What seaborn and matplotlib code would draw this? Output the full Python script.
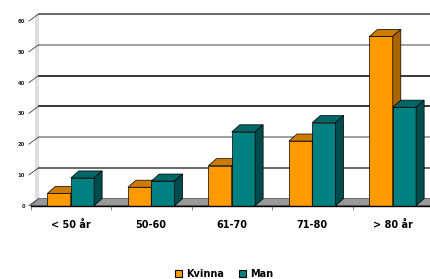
import pandas as pd
import seaborn as sns
from matplotlib import pyplot as plt
from matplotlib.patches import Polygon, Patch

# data
age_groups = ["< 50 år", "50-60", "61-70", "71-80", "> 80 år"]
kvinna = [4, 6, 13, 21, 55]
man = [9, 8, 24, 27, 32]
series = ["Kvinna", "Man"]
y_ticks = [0, 10, 20, 30, 40, 50, 60]

front = {"Kvinna": "#FF9900", "Man": "#008080"}
top = {"Kvinna": "#CC7A00", "Man": "#006666"}
side = {"Kvinna": "#A86400", "Man": "#004C4C"}

df = pd.DataFrame({
    "Ålder": age_groups * 2,
    "Kön": ["Kvinna"] * len(age_groups) + ["Man"] * len(age_groups),
    "Andel": kvinna + man,
})

fig = plt.figure(figsize=(4.30, 2.79), dpi=100)
ax = fig.add_axes([30.5 / 430, 73.3 / 279, 402.5 / 430, 191.7 / 279])

sns.barplot(data=df, x="Ålder", y="Andel", hue="Kön", order=age_groups,
            hue_order=series, palette=front, width=0.58, edgecolor="black",
            linewidth=0.5, ax=ax, legend=False, saturation=1)

# depth of the fake 3d look, in data units
dx, dy = 0.1, 2.3
x0, x1 = -0.5, len(age_groups) - 0.5
ax.set_xlim(x0, x1)
ax.set_ylim(0, 60 + dy)

# back wall gridlines, side wall and floor
grid_cols = ["#202020", "#404040", "#888888", "#000000", "#000000", "#888888", "#404040"]
for v, c in zip(y_ticks, grid_cols):
    if v > 0:
        ax.plot([x0 + dx, x1 + dx], [v + dy, v + dy], color=c, lw=1.1, zorder=0.5,
                clip_on=False)
    ax.plot([x0 - 0.02, x0 + dx], [v, v + dy], color="#404040", lw=0.6, zorder=0.6,
            clip_on=False)
ax.add_patch(Polygon([(x0 + 0.06, dy), (x0 + dx, dy), (x0 + dx, 60 + dy), (x0 + 0.06, 60 + dy)],
                     closed=True, facecolor="#dedede", edgecolor="none", zorder=0.4))
ax.add_patch(Polygon([(x0, 0), (x1 + 1, 0), (x1 + 1 + dx, dy), (x0 + dx, dy)],
                     closed=True, facecolor="#999999", edgecolor="#404040", lw=0.5,
                     zorder=0.8, clip_on=False))

# top and side faces for every bar
for i, bar in enumerate(ax.patches[:2 * len(age_groups)]):
    name = series[i // len(age_groups)]
    z = 2 if name == "Kvinna" else 3
    bar.set_zorder(z)
    bx, bw, bh = bar.get_x(), bar.get_width(), bar.get_height()
    ax.add_patch(Polygon([(bx, bh), (bx + bw, bh), (bx + bw + dx, bh + dy), (bx + dx, bh + dy)],
                         closed=True, facecolor=top[name], edgecolor="black", lw=0.5,
                         zorder=z + 0.1, clip_on=False))
    ax.add_patch(Polygon([(bx + bw, 0), (bx + bw + dx, dy), (bx + bw + dx, bh + dy), (bx + bw, bh)],
                         closed=True, facecolor=side[name], edgecolor="black", lw=0.5,
                         zorder=z + 0.1, clip_on=False))

# axes
for s in ["top", "right", "left"]:
    ax.spines[s].set_visible(False)
ax.spines["bottom"].set_color("black")
ax.spines["bottom"].set_linewidth(1)
ax.spines["bottom"].set_zorder(4)
ax.set_yticks(y_ticks)
ax.set_yticklabels([str(v) for v in y_ticks], fontsize=3.8, fontweight="bold", color="#222222")
ax.tick_params(axis="y", length=0, pad=4)
ax.set_xticks(range(len(age_groups)))
ax.set_xticklabels(age_groups, fontsize=7, fontweight="bold")
ax.tick_params(axis="x", length=0, pad=10)
ax.set_xticks([x0 + k for k in range(1, len(age_groups))] + [x0], minor=True)
ax.tick_params(axis="x", which="minor", length=3, color="#777777", width=0.6)
ax.set_xlabel("")
ax.set_ylabel("")
ax.patch.set_alpha(0)

handles = [Patch(facecolor=front[s], edgecolor="black", lw=0.8, label=s) for s in series]
fig.legend(handles=handles, loc="center", bbox_to_anchor=(0.521, 0.018), ncol=2,
           frameon=False, handlelength=0.75, handleheight=0.75, handletextpad=0.4,
           columnspacing=1.6, prop={"size": 7, "weight": "bold"})

fig.savefig("out.png", dpi=100)
